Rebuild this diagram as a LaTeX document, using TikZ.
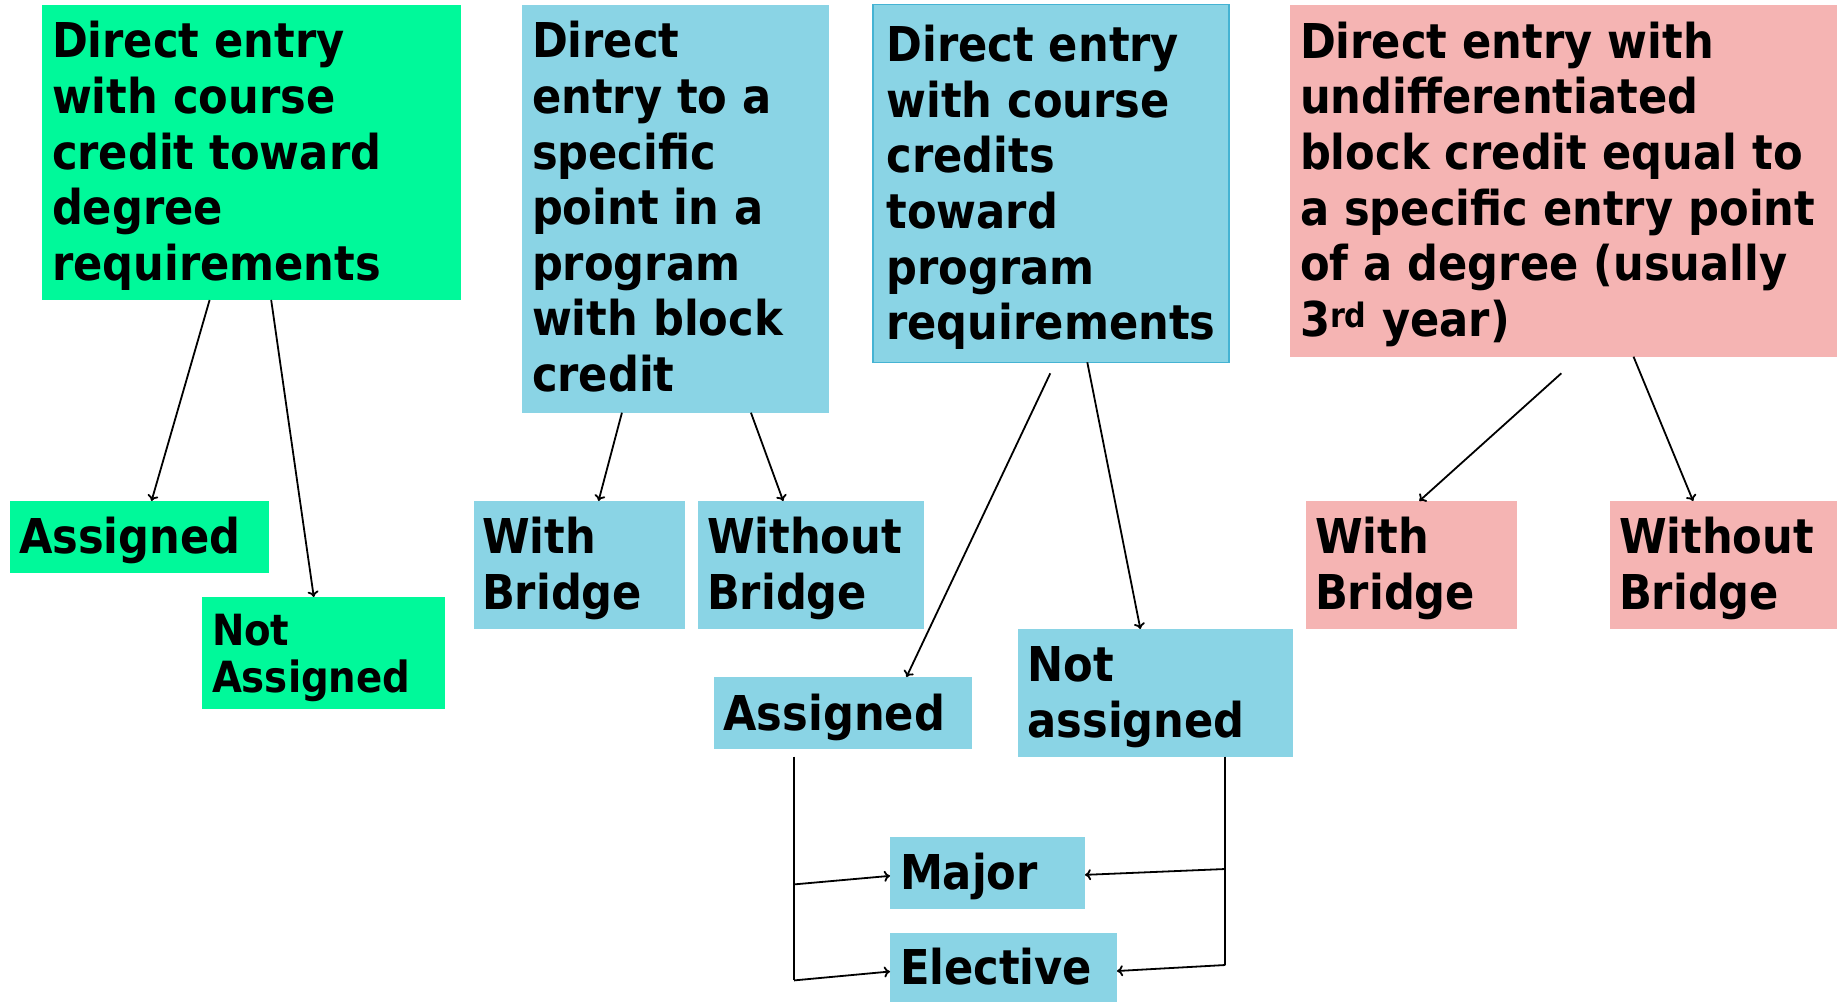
\documentclass[tikz,border=0pt]{standalone}
\usepackage{fontspec}
\setmainfont{DejaVu Sans}[FakeStretch=0.9]
\usetikzlibrary{calc,arrows.meta}
\definecolor{cgreen}{HTML}{00F99A}
\definecolor{cblue}{HTML}{8AD4E5}
\definecolor{cpink}{HTML}{F5B4B3}
\definecolor{cblueline}{HTML}{45B3D3}
\tikzset{
  box/.style={rectangle, inner sep=0pt, outer sep=0pt, anchor=north west},
  gbox/.style={box, fill=cgreen},
  bbox/.style={box, fill=cblue},
  pbox/.style={box, fill=cpink},
  txt/.style={anchor=north west, inner sep=0pt, outer sep=0pt, align=left,
    font=\fontsize{48}{55.6}\selectfont\bfseries},
  smalltxt/.style={txt, font=\fontsize{43}{47}\selectfont\bfseries},
  arr/.style={-{To[length=6pt,width=11pt]}, line width=1.8pt},
  ln/.style={line width=1.8pt}
}
\begin{document}
\begin{tikzpicture}[x=1pt,y=-1pt]
\useasboundingbox (0,0) rectangle (1841,1002);
% boxes
\node[gbox, minimum width=419pt, minimum height=295pt] (g1) at (42,5) {};
\node[bbox, minimum width=306.5pt, minimum height=407.7pt] (b1) at (522,5) {};
\node[bbox, draw=cblueline, line width=1.5pt, minimum width=356pt, minimum height=358pt] (b2) at (873,4.3) {};
\node[pbox, minimum width=547pt, minimum height=351.7pt] (p1) at (1290,5) {};
\node[gbox, minimum width=258.7pt, minimum height=71.7pt] (g2) at (10,501) {};
\node[gbox, minimum width=243pt, minimum height=112pt] (g3) at (202,597) {};
\node[bbox, minimum width=210.7pt, minimum height=127.7pt] (b3) at (474,501) {};
\node[bbox, minimum width=226pt, minimum height=127.7pt] (b4) at (698,501) {};
\node[bbox, minimum width=258pt, minimum height=71.7pt] (b5) at (714,677) {};
\node[bbox, minimum width=275pt, minimum height=127.7pt] (b6) at (1018,629) {};
\node[bbox, minimum width=195pt, minimum height=71.7pt] (b7) at (890,837) {};
\node[bbox, minimum width=227pt, minimum height=69pt] (b8) at (890,933) {};
\node[pbox, minimum width=211pt, minimum height=127.7pt] (p2) at (1306,501) {};
\node[pbox, minimum width=227pt, minimum height=127.7pt] (p3) at (1610,501) {};
% texts
\node[txt] (g1t) at ($(g1.north west)+(10,16.5)$) {Direct entry\\with course\\credit toward\\degree\\requirements};
\node[txt] (b1t) at ($(b1.north west)+(10,16.5)$) {Direct\\entry to a\\specific\\point in a\\program\\with block\\credit};
\node[txt] (b2t) at ($(b2.north west)+(13.4,21)$) {Direct entry\\with course\\credits\\toward\\program\\requirements};
\node[txt] (p1t) at ($(p1.north west)+(10,16.8)$) {Direct entry with\\undifferentiated\\block credit equal to\\a specific entry point\\of a degree (usually\\3\textsuperscript{rd} year)};
\node[txt] (g2t) at ($(g2.north west)+(9,16.5)$) {Assigned};
\node[smalltxt] (g3t) at ($(g3.north west)+(10,16.7)$) {Not\\Assigned};
\node[txt] (b3t) at ($(b3.north west)+(8,16.5)$) {With\\Bridge};
\node[txt] (b4t) at ($(b4.north west)+(9,16.5)$) {Without\\Bridge};
\node[txt] (b5t) at ($(b5.north west)+(9.5,17)$) {Assigned};
\node[txt] (b6t) at ($(b6.north west)+(9.5,17.7)$) {Not\\assigned};
\node[txt] (b7t) at ($(b7.north west)+(10,15.8)$) {Major};
\node[txt] (b8t) at ($(b8.north west)+(10,15.5)$) {Elective};
\node[txt] (p2t) at ($(p2.north west)+(9,16.5)$) {With\\Bridge};
\node[txt] (p3t) at ($(p3.north west)+(9,16.5)$) {Without\\Bridge};
% connectors
\draw[arr] ($(g1.south west)!0.40!(g1.south east)$) -- ($(g2.north west)!0.547!(g2.north east)$);
\draw[arr] ($(g1.south west)!0.547!(g1.south east)$) -- ($(g3.north west)!0.46!(g3.north east)$);
\draw[arr] ($(b1.south west)!0.326!(b1.south east)$) -- ($(b3.north west)!0.591!(b3.north east)$);
\draw[arr] ($(b1.south west)!0.747!(b1.south east)$) -- ($(b4.north west)!0.377!(b4.north east)$);
\coordinate (b2a) at ($(b2.south west)!0.498!(b2.south east)+(0,11)$);
\draw[arr] (b2a) -- ($(b5.north west)!0.746!(b5.north east)$);
\draw[arr] ($(b2.south west)!0.602!(b2.south east)$) -- ($(b6.north west)!0.445!(b6.north east)$);
\coordinate (p1a) at ($(p1.south west)!0.496!(p1.south east)+(0,16.6)$);
\draw[arr] (p1a) -- ($(p2.north west)!0.537!(p2.north east)$);
\draw[arr] ($(p1.south west)!0.628!(p1.south east)$) -- ($(p3.north west)!0.366!(p3.north east)$);
% assigned -> major / elective
\coordinate (la) at ($(b5.south west)+(80,8)$);
\coordinate (lb) at ($(la)+(0,127.7)$);
\coordinate (lc) at ($(la)+(0,223.7)$);
\draw[ln] (la) -- (lc);
\draw[arr] (lb) -- ($(b7.west)+(0,3)$);
\draw[arr] (lc) -- ($(b8.west)+(0,4)$);
% not assigned -> major / elective
\coordinate (ra) at ($(b6.south west)!0.754!(b6.south east)$);
\coordinate (rb) at ($(ra)+(0,112.3)$);
\coordinate (rc) at ($(ra)+(0,208.3)$);
\draw[ln] (ra) -- (rc);
\draw[arr] (rb) -- ($(b7.east)+(0,2)$);
\draw[arr] (rc) -- ($(b8.east)+(0,3.5)$);
\end{tikzpicture}
\end{document}
